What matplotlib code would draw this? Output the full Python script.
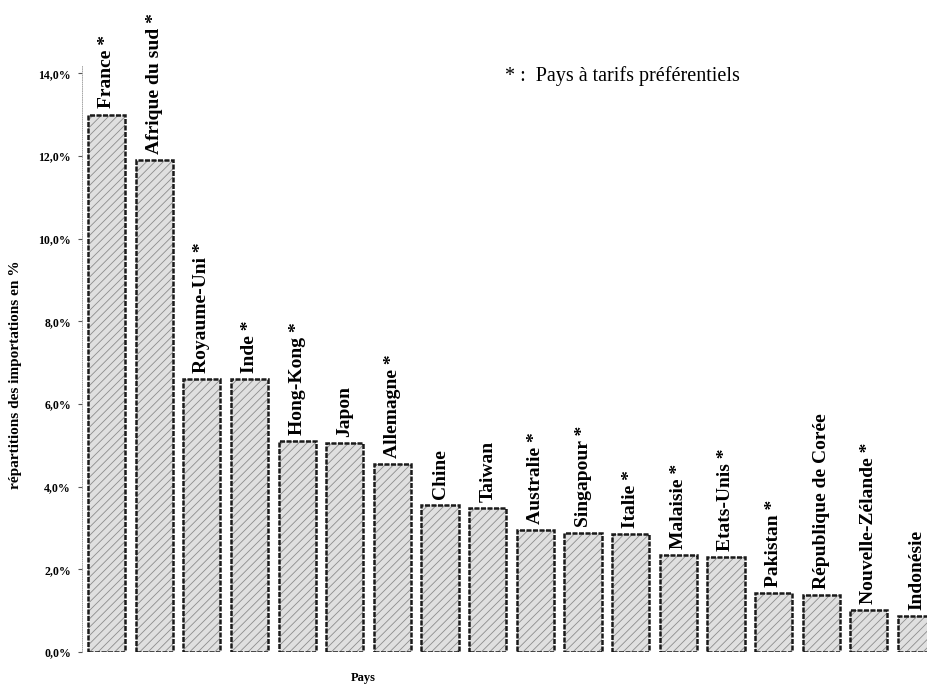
import numpy as np
import matplotlib
matplotlib.use("Agg")
import matplotlib.pyplot as plt

pays = ["France *", "Afrique du sud *", "Royaume-Uni *", "Inde *", "Hong-Kong *",
        "Japon", "Allemagne *", "Chine", "Taiwan", "Australie *", "Singapour *",
        "Italie *", "Malaisie *", "Etats-Unis *", "Pakistan *", "République de Corée",
        "Nouvelle-Zélande *", "Indonésie"]
parts = [13.0, 11.9, 6.6, 6.6, 5.1, 5.05, 4.55, 3.55, 3.48, 2.95, 2.87, 2.85,
         2.35, 2.3, 1.42, 1.38, 1.02, 0.87]
ticks = [0, 2, 4, 6, 8, 10, 12, 14]
tick_labels = ["0,0%", "2,0%", "4,0%", "6,0%", "8,0%", "10,0%", "12,0%", "14,0%"]

serif = "Liberation Serif"
plt.rcParams["hatch.linewidth"] = 0.6

fig = plt.figure(figsize=(9.28, 6.89), dpi=100)
ax = fig.add_axes([82 / 928, 37 / 689, 846 / 928, 587 / 689])

x = np.arange(len(pays))
# hatched fill, then dark outline on top
ax.bar(x, parts, width=0.78, color="#e0e0e0", edgecolor="#8c8c8c", linewidth=0,
       hatch="////", zorder=2)
ax.bar(x, parts, width=0.78, fill=False, edgecolor="#1a1a1a", linewidth=1.8,
       linestyle=(0, (2, 0.6)), zorder=3)

for i in range(len(pays)):
    ax.text(x[i], parts[i] + 0.15, pays[i], rotation=90, ha="center", va="bottom",
            fontsize=14, fontweight="bold", family=serif)

ax.set_xlim(-0.514, 17.24)
ax.set_ylim(0, 14.2)
ax.set_xticks([])
ax.set_yticks(ticks)
ax.set_yticklabels(tick_labels, fontsize=8.5, fontweight="bold", family=serif)
ax.tick_params(axis="y", length=3, width=0.8, pad=5, color="#555555")

for s in ["top", "right", "bottom"]:
    ax.spines[s].set_visible(False)
ax.spines["left"].set_linestyle(":")
ax.spines["left"].set_color("#999999")
ax.spines["left"].set_linewidth(0.6)

fig.text(16 / 928, 1 - 375 / 689, "répartitions des importations en %", rotation=90,
         ha="center", va="center", fontsize=11, fontweight="bold", family=serif)
fig.text(363 / 928, 1 - 678 / 689, "Pays", ha="center", va="center", fontsize=9,
         fontweight="bold", family=serif)
fig.text(505 / 928, 1 - 76 / 689, "* :  Pays à tarifs préférentiels", ha="left",
         va="center", fontsize=14.5, family=serif)

fig.savefig("out.png", dpi=100)
